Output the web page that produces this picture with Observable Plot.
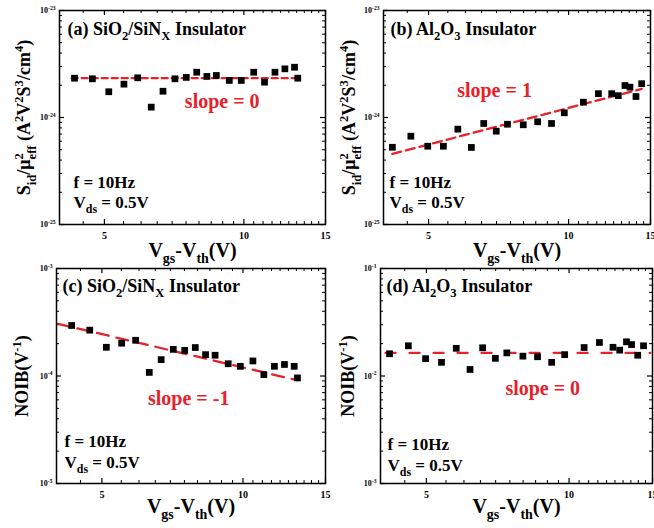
<!DOCTYPE html>
<html><head><meta charset="utf-8">
<script src="https://cdn.jsdelivr.net/npm/d3@7"></script>
<script src="https://cdn.jsdelivr.net/npm/@observablehq/plot@0.6"></script>
<style>
body{margin:0;background:#fff}
#wrap{position:relative;width:654px;height:528px;overflow:hidden;background:#fff}
#wrap svg{position:absolute;overflow:visible;background:none}
</style>
</head><body><div id="wrap"></div>
<script>
// ---- data ----
const vA = [4.31,4.71,5.11,5.51,5.90,6.31,6.69,7.10,7.51,7.91,8.32,8.72,9.30,9.87,10.5,11.08,11.67,12.26,12.86,13.07];
const sidA = [2.33e-24,2.30e-24,1.74e-24,2.05e-24,2.35e-24,1.25e-24,1.76e-24,2.30e-24,2.37e-24,2.65e-24,2.42e-24,2.47e-24,2.22e-24,2.22e-24,2.65e-24,2.14e-24,2.65e-24,2.85e-24,2.95e-24,2.33e-24];
const vB = [4.18,4.58,4.98,5.38,5.78,6.18,6.57,6.99,7.39,7.99,8.58,9.19,9.79,10.76,11.59,12.38,12.79,13.22,13.55,13.96,14.36];
const sidB = [5.27e-25,6.69e-25,5.39e-25,5.39e-25,7.78e-25,5.25e-25,8.79e-25,7.45e-25,8.65e-25,8.55e-25,9.12e-25,8.79e-25,1.107e-24,1.39e-24,1.67e-24,1.67e-24,1.60e-24,1.99e-24,1.92e-24,1.57e-24,2.07e-24];
const noibC = [2.95e-4,2.67e-4,1.85e-4,2.02e-4,2.15e-4,1.08e-4,1.42e-4,1.77e-4,1.73e-4,1.84e-4,1.58e-4,1.56e-4,1.30e-4,1.23e-4,1.38e-4,1.03e-4,1.23e-4,1.28e-4,1.23e-4,9.6e-5];
const noibD = [1.61e-2,1.91e-2,1.45e-2,1.34e-2,1.81e-2,1.15e-2,1.83e-2,1.46e-2,1.64e-2,1.53e-2,1.51e-2,1.34e-2,1.58e-2,1.84e-2,2.05e-2,1.85e-2,1.74e-2,2.08e-2,1.96e-2,1.56e-2,1.91e-2];
const fitAx = [4.25, 13.1], fitAy = [2.33e-24, 2.33e-24];
const fitBx = [4.18, 14.36], fitBy = [4.57e-25, 1.85e-24];
const fitCx = [4.03, 13.05], fitCy = [3.06e-4, 9.14e-5];
const fitDx = [4.1, 14.85], fitDy = [1.64e-2, 1.64e-2];
const xTicks = [5, 10, 15];
const xLabel = "V_{gs}-V_{th}(V)";
const sidLabel = "S_{id}/μ^{2}_{eff} (A^{2}V^{2}S^{3}/cm^{4})";
const noibLabel = "NOIB(V^{-1})";
const titles = ["(a) SiO_{2}/SiN_{X} Insulator","(b) Al_{2}O_{3} Insulator","(c) SiO_{2}/SiN_{X} Insulator","(d) Al_{2}O_{3} Insulator"];
const slopeTexts = ["slope = 0","slope = 1","slope = -1","slope = 0"];
const condF = "f = 10Hz";
const condV = "V_{ds} = 0.5V";

const RED = "#e8202a";
const FONT = "Liberation Serif";

const panels = [
  {x:vA, y:sidA, fx:fitAx, fy:fitAy, yd:[1e-25,1e-23], ylab:sidLabel, title:titles[0], slope:slopeTexts[0],
   left:0, top:0, m:{left:59,right:2,top:10,bottom:40}, dash:"6,4", sPos:[8.98,1.41e-24],
   tdx:8, tdy:24, cdx:14, cdy:[-37,-17], ylx:-35, xly:32},
  {x:vB, y:sidB, fx:fitBx, fy:fitBy, yd:[1e-25,1e-23], ylab:sidLabel, title:titles[1], slope:slopeTexts[1],
   left:327, top:0, m:{left:56,right:4,top:10,bottom:40}, dash:"9,5", sPos:[6.93,1.77e-24],
   tdx:7, tdy:24, cdx:6, cdy:[-37,-17], ylx:-34, xly:32},
  {x:vA, y:noibC, fx:fitCx, fy:fitCy, yd:[1e-5,1e-3], ylab:noibLabel, title:titles[2], slope:slopeTexts[2],
   left:0, top:264, m:{left:56,right:2,top:4,bottom:45}, dash:"12,8", sPos:[7.66,6.1e-5],
   tdx:6, tdy:23, cdx:8, cdy:[-37,-16], ylx:-34, xly:29},
  {x:vB, y:noibD, fx:fitDx, fy:fitDy, yd:[1e-3,1e-1], ylab:noibLabel, title:titles[3], slope:slopeTexts[3],
   left:327, top:264, m:{left:53,right:2,top:4,bottom:45}, dash:"10,14", sPos:[8.80,7.57e-3],
   tdx:6, tdy:23, cdx:7, cdy:[-34,-13], ylx:-32, xly:29}
];

function richText(svg) {
  d3.select(svg).selectAll("text").each(function() {
    const t = this.textContent;
    if (!/[_^]\{/.test(t)) return;
    const fs = parseFloat(getComputedStyle(this).fontSize) || 10;
    const parts = [];
    const re = /([_^])\{([^}]*)\}/g;
    let last = 0, m;
    while ((m = re.exec(t))) {
      if (m.index > last) parts.push({s: t.slice(last, m.index), k: ""});
      parts.push({s: m[2], k: m[1]});
      last = re.lastIndex;
    }
    if (last < t.length) parts.push({s: t.slice(last), k: ""});
    this.textContent = "";
    let cur = 0, prev = null;
    for (const p of parts) {
      const target = p.k === "^" ? -0.42 * fs : p.k === "_" ? 0.3 * fs : 0;
      const ts = d3.select(this).append("tspan").text(p.s);
      if (p.k) ts.attr("font-size", (fs * 0.7).toFixed(2));
      if (target !== cur) ts.attr("dy", (target - cur).toFixed(2));
      if (p.k === "_" && prev && prev.k === "^") ts.attr("dx", (-prev.w).toFixed(2));
      cur = target;
      p.w = ts.node().getComputedTextLength();
      prev = p;
    }
  });
}

const wrap = document.getElementById("wrap");
const W = 327, H = 264;
panels.forEach(p => {
  const fw = W - p.m.left - p.m.right, fh = H - p.m.top - p.m.bottom;
  const [y0, y1] = p.yd;
  const yMajor = [], yMinor = [];
  for (let e = Math.round(Math.log10(y0)); e <= Math.round(Math.log10(y1)); e++) {
    yMajor.push(Math.pow(10, e));
    if (e < Math.round(Math.log10(y1))) for (let k = 2; k <= 9; k++) yMinor.push(k * Math.pow(10, e));
  }
  const xMinor = [];
  for (let v = 4; v <= 15.001; v += 0.5) if (!xTicks.includes(v)) xMinor.push(v);
  const pts = p.x.map((v, i) => ({x: v, y: p.y[i]}));
  const fit = p.fx.map((v, i) => ({x: v, y: p.fy[i]}));
  const svg = Plot.plot({
    width: W, height: H,
    marginLeft: p.m.left, marginRight: p.m.right, marginTop: p.m.top, marginBottom: p.m.bottom,
    style: {fontFamily: FONT, fontWeight: "bold", background: "none", overflow: "visible"},
    x: {type: "log", domain: [4, 15], axis: null},
    y: {type: "log", domain: p.yd, axis: null},
    marks: [
      Plot.tickX(xTicks, {x: d => d, insetTop: fh - 5, stroke: "black", strokeWidth: 1.2}),
      Plot.tickX(xTicks, {x: d => d, insetBottom: fh - 5, stroke: "black", strokeWidth: 1.2}),
      Plot.tickX(xMinor, {x: d => d, insetTop: fh - 3, stroke: "black", strokeWidth: 1}),
      Plot.tickX(xMinor, {x: d => d, insetBottom: fh - 3, stroke: "black", strokeWidth: 1}),
      Plot.tickY(yMajor, {y: d => d, insetRight: fw - 5, stroke: "black", strokeWidth: 1.2}),
      Plot.tickY(yMajor, {y: d => d, insetLeft: fw - 5, stroke: "black", strokeWidth: 1.2}),
      Plot.tickY(yMinor, {y: d => d, insetRight: fw - 3, stroke: "black", strokeWidth: 1}),
      Plot.tickY(yMinor, {y: d => d, insetLeft: fw - 3, stroke: "black", strokeWidth: 1}),
      Plot.text(xTicks, {x: d => d, frameAnchor: "bottom", textAnchor: "middle", lineAnchor: "top", dy: 7, text: d => String(d), fontSize: 10, fill: "black"}),
      Plot.text(yMajor, {y: d => d, frameAnchor: "left", textAnchor: "end", lineAnchor: "middle", dx: -4, text: d => `10^{${Math.round(Math.log10(d))}}`, fontSize: 8, fill: "black"}),
      Plot.line(fit, {x: "x", y: "y", stroke: RED, strokeWidth: 2.3, strokeDasharray: p.dash}),
      Plot.dot(pts, {x: "x", y: "y", symbol: "square", r: 3.8, fill: "black", stroke: "none"}),
      Plot.frame({stroke: "black", strokeWidth: 1.5}),
      Plot.text([p.title], {frameAnchor: "top-left", textAnchor: "start", lineAnchor: "bottom", dx: p.tdx, dy: p.tdy, fontSize: 18, fill: "black"}),
      Plot.text([p.slope], {x: () => p.sPos[0], y: () => p.sPos[1], textAnchor: "middle", lineAnchor: "middle", fontSize: 20, fill: RED}),
      Plot.text([condF], {frameAnchor: "bottom-left", textAnchor: "start", lineAnchor: "bottom", dx: p.cdx, dy: p.cdy[0], fontSize: 17, fill: "black"}),
      Plot.text([condV], {frameAnchor: "bottom-left", textAnchor: "start", lineAnchor: "bottom", dx: p.cdx, dy: p.cdy[1], fontSize: 17, fill: "black"}),
      Plot.text([xLabel], {frameAnchor: "bottom", textAnchor: "middle", lineAnchor: "bottom", dy: p.xly, fontSize: 20, fill: "black"}),
      Plot.text([p.ylab], {frameAnchor: "left", textAnchor: "middle", lineAnchor: "middle", rotate: -90, dx: p.ylx, fontSize: 18, fill: "black"})
    ]
  });
  svg.style.left = p.left + "px";
  svg.style.top = p.top + "px";
  wrap.appendChild(svg);
  richText(svg);
});
</script>
</body></html>
